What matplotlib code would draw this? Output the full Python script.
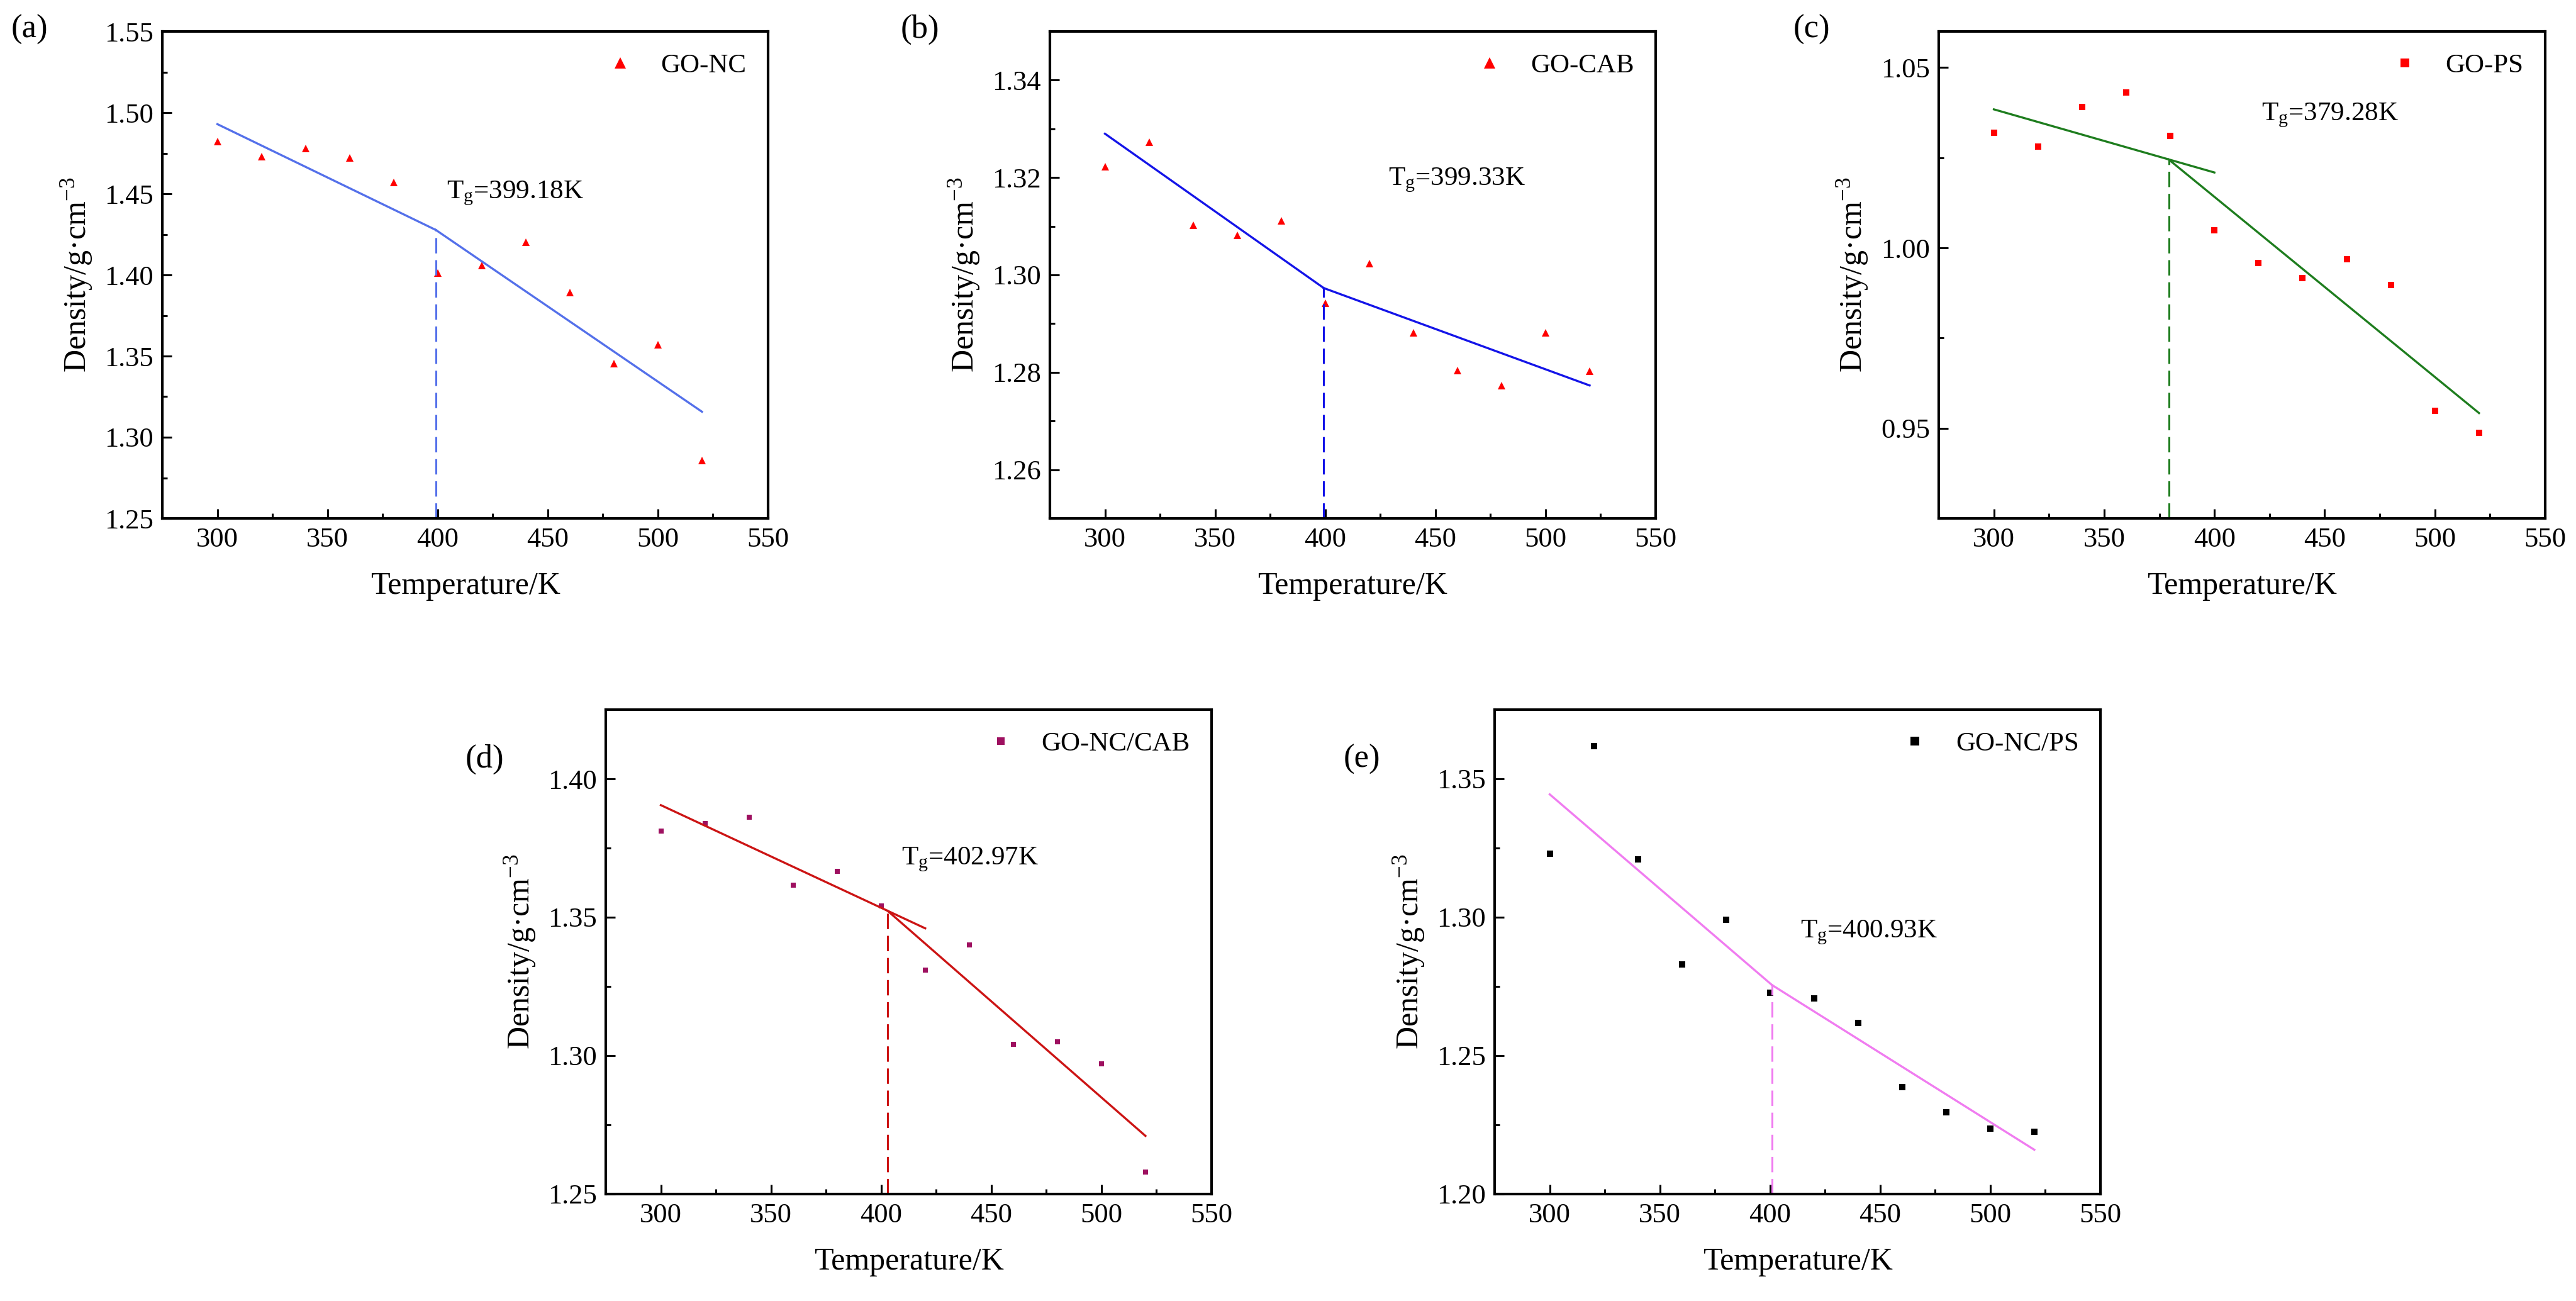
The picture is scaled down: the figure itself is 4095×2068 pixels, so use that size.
import matplotlib
matplotlib.use("Agg")
import matplotlib.pyplot as plt
from matplotlib.ticker import MultipleLocator, FormatStrFormatter

plt.rcParams['font.family'] = ['Liberation Serif', 'DejaVu Serif']
plt.rcParams['mathtext.fontset'] = 'custom'
plt.rcParams['mathtext.rm'] = 'Liberation Serif'
plt.rcParams['mathtext.it'] = 'Liberation Serif:italic'
plt.rcParams['mathtext.bf'] = 'Liberation Serif:bold'
plt.rcParams['axes.unicode_minus'] = True

# ---------------- data ----------------
temperature = [300, 320, 340, 360, 380, 400, 420, 440, 460, 480, 500, 520]

density_nc = [1.482, 1.473, 1.478, 1.472, 1.457, 1.401, 1.406, 1.420, 1.389, 1.3455, 1.357, 1.2855]
density_cab = [1.3222, 1.3273, 1.3102, 1.3082, 1.3111, 1.2942, 1.3023, 1.2881, 1.2804, 1.2772, 1.2881, 1.2802]
density_ps = [1.0319, 1.0280, 1.0390, 1.0430, 1.0310, 1.0048, 0.9958, 0.9917, 0.9968, 0.9897, 0.9548, 0.9488]
density_nccab = [1.3811, 1.3839, 1.3861, 1.3617, 1.3665, 1.3540, 1.3310, 1.3399, 1.3041, 1.3051, 1.2971, 1.2580]
density_ncps = [1.3229, 1.3619, 1.3210, 1.2830, 1.2991, 1.2727, 1.2707, 1.2619, 1.2387, 1.2296, 1.2236, 1.2226]

tg_values = [399.18, 399.33, 379.28, 402.97, 400.93]
tg_density = [1.4277, 1.2973, 1.0245, 1.3523, 1.2755]

# fit lines (glassy segment, rubbery segment)
fit1_x = [[300, 399.18], [300, 399.33], [300, 400], [300, 420], [300, 400.93]]
fit1_y = [[1.4929, 1.4277], [1.3290, 1.2973], [1.0384, 1.0209], [1.3905, 1.3460], [1.3444, 1.2755]]
fit2_x = [[399.18, 520], [399.33, 520], [379.28, 520], [402.97, 520], [400.93, 520]]
fit2_y = [[1.4277, 1.3157], [1.2973, 1.2773], [1.0245, 0.9542], [1.3523, 1.2710], [1.2755, 1.2160]]

series_names = ['GO-NC', 'GO-CAB', 'GO-PS', 'GO-NC/CAB', 'GO-NC/PS']
panel_tags = ['(a)', '(b)', '(c)', '(d)', '(e)']
y_limits = [(1.25, 1.55), (1.25, 1.35), (0.925, 1.06), (1.25, 1.425), (1.20, 1.375)]
y_major = [0.05, 0.02, 0.05, 0.05, 0.05]
tg_text_pos = [(404, 1.447), (428.7, 1.3184), (421.3, 1.0354), (409.3, 1.369), (413.7, 1.2927)]

all_density = [density_nc, density_cab, density_ps, density_nccab, density_ncps]
markers = ['^', '^', 's', 's', 's']
marker_sizes = [9, 9, 6.5, 6, 6.5]
marker_colors = ['#FF0000', '#FF0000', '#FF0000', '#9E1060', '#000000']
line_colors = ['#5470EA', '#1414E8', '#1E7D1E', '#CC1414', '#F07CF0']

# ---------------- layout ----------------
W, H = 4095, 2068
fig = plt.figure(figsize=(W / 100, H / 100), dpi=100)

def px_axes(x0, y0, x1, y1):
    return fig.add_axes([x0 / W, 1 - y1 / H, (x1 - x0) / W, (y1 - y0) / H])

boxes = [(258, 50, 1221, 824), (1669, 50, 2632, 824), (3082, 50, 4046, 824),
         (963, 1128, 1926, 1898), (2376, 1128, 3339, 1898)]
tag_pos = [(47, 47), (1462, 47), (2880, 47), (770, 1207), (2165, 1207)]

for i in range(5):
    ax = px_axes(*boxes[i])
    ax.plot(temperature, all_density[i], linestyle='none', marker=markers[i],
            markersize=marker_sizes[i], color=marker_colors[i], markeredgewidth=0,
            label=series_names[i])
    ax.plot(fit1_x[i], fit1_y[i], color=line_colors[i], lw=2.4)
    ax.plot(fit2_x[i], fit2_y[i], color=line_colors[i], lw=2.4)
    ax.plot([tg_values[i], tg_values[i]], [y_limits[i][0], tg_density[i]],
            color=line_colors[i], lw=2.2, linestyle=(0, (8, 3.5)))
    ax.text(tg_text_pos[i][0], tg_text_pos[i][1],
            r'T$_{\mathrm{g}}$=' + f'{tg_values[i]:.2f}K',
            fontsize=31, ha='left', va='baseline')

    ax.set_xlim(275, 550)
    ax.set_ylim(*y_limits[i])
    ax.xaxis.set_major_locator(MultipleLocator(50))
    ax.xaxis.set_minor_locator(MultipleLocator(25))
    ax.yaxis.set_major_locator(MultipleLocator(y_major[i]))
    ax.yaxis.set_minor_locator(MultipleLocator(y_major[i] / 2))
    ax.yaxis.set_major_formatter(FormatStrFormatter('%.2f'))
    ax.tick_params(which='both', direction='in', top=False, right=False,
                   labelsize=32, width=2.2, pad=10)
    ax.tick_params(which='major', length=11)
    ax.tick_params(which='minor', length=6)
    for sp in ax.spines.values():
        sp.set_linewidth(3.0)
    ax.set_xlabel('Temperature/K', fontsize=36, labelpad=22)
    ax.set_ylabel('Density/g·cm$^{-3}$', fontsize=36, labelpad=12)
    ax.legend(loc='upper right', frameon=False, fontsize=31, markerscale=1.45,
              handletextpad=0.9, borderaxespad=0.4, handlelength=1.2)
    fig.text(tag_pos[i][0] / W, 1 - tag_pos[i][1] / H, panel_tags[i],
             fontsize=38, ha='center', va='center')

fig.savefig('out.png', dpi=100)
